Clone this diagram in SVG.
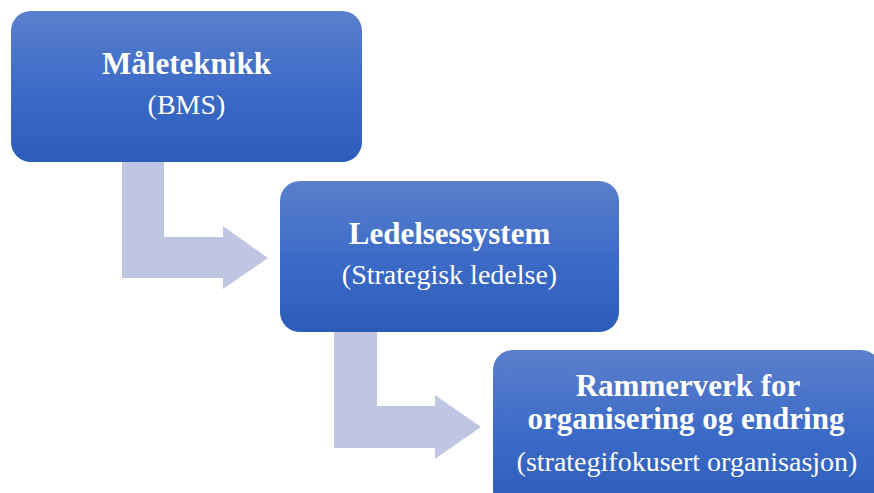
<svg xmlns="http://www.w3.org/2000/svg" width="874" height="493" viewBox="0 0 874 493">
<style>
.box{fill:url(#g)}
.arrow{fill:#bec6e2}
.t{font-family:"Liberation Serif","Times New Roman",serif;fill:#ffffff;text-anchor:middle}
.b{font-weight:bold;font-size:31px}
.s{font-size:28px}
</style>
<defs>
<linearGradient id="g" x1="0" y1="0" x2="0" y2="1">
<stop offset="0" stop-color="#5b7fcb"/>
<stop offset="0.5" stop-color="#3d6cc8"/>
<stop offset="1" stop-color="#2c5cb9"/>
</linearGradient>
</defs>
<rect width="874" height="493" fill="#ffffff"/>
<g id="connectors">
<polygon class="arrow" points="122,160 164,160 164,237 223,237 223,226 268,258 223,289 223,278 122,278"/>
<polygon class="arrow" points="334,330 377,330 377,406 435,406 435,395 481,427 435,459 435,448 334,448"/>
</g>
<g id="node1">
<rect class="box" x="11" y="11" width="351" height="151" rx="20"/>
<text class="t b" x="186.5" y="74">Måleteknikk</text>
<text class="t s" x="186.5" y="114">(BMS)</text>
</g>
<g id="node2">
<rect class="box" x="280" y="181" width="339" height="151" rx="20"/>
<text class="t b" x="449.5" y="244">Ledelsessystem</text>
<text class="t s" x="449.5" y="284">(Strategisk ledelse)</text>
</g>
<g id="node3">
<rect class="box" x="493" y="350" width="388" height="160" rx="20"/>
<text class="t b" x="688" y="396">Rammerverk for</text>
<text class="t b" x="686" y="429">organisering og endring</text>
<text class="t s" x="687" y="471">(strategifokusert organisasjon)</text>
</g>
</svg>
